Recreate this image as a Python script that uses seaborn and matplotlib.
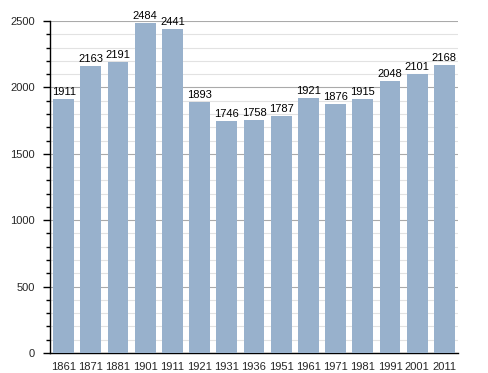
import matplotlib.pyplot as plt
from matplotlib.ticker import MultipleLocator
import pandas as pd
import seaborn as sns

years = ['1861', '1871', '1881', '1901', '1911', '1921', '1931', '1936',
         '1951', '1961', '1971', '1981', '1991', '2001', '2011']
population = [1911, 2163, 2191, 2484, 2441, 1893, 1746, 1758,
              1787, 1921, 1876, 1915, 2048, 2101, 2168]

df = pd.DataFrame({'year': years, 'pop': population})

sns.set_style('white')
plt.rcParams['font.family'] = ['Liberation Sans', 'DejaVu Sans']
fs = 8

fig = plt.figure(figsize=(4.88, 3.73), dpi=100)
ax = fig.add_axes([0.1025, 0.0536, 0.836, 0.89])

sns.barplot(data=df, x='year', y='pop', color='#98b1cc', saturation=1,
            width=0.77, linewidth=0, ax=ax, zorder=3)

for i, v in enumerate(population):
    ax.text(i, v + 15, str(v), ha='center', va='bottom', fontsize=fs, color='black')

ax.set_ylim(0, 2500)
ax.set_xlim(-0.5, len(years) - 0.5)
ax.yaxis.set_major_locator(MultipleLocator(500))
ax.yaxis.set_minor_locator(MultipleLocator(100))
ax.grid(axis='y', which='major', color='#aaaaaa', linewidth=0.8, zorder=0)
ax.grid(axis='y', which='minor', color='#e2e2e2', linewidth=0.8, zorder=0)
ax.set_axisbelow(True)
ax.set_xlabel('')
ax.set_ylabel('')

for s in ['top', 'right']:
    ax.spines[s].set_visible(False)
for s in ['left', 'bottom']:
    ax.spines[s].set_color('black')
    ax.spines[s].set_linewidth(1)

ax.tick_params(axis='y', which='major', left=True, length=5, width=1, color='black', labelsize=fs, pad=6)
ax.tick_params(axis='y', which='minor', left=True, length=3, width=1, color='black')
ax.tick_params(axis='x', bottom=False, labelsize=fs, pad=3)

plt.savefig('out.png', dpi=100)
